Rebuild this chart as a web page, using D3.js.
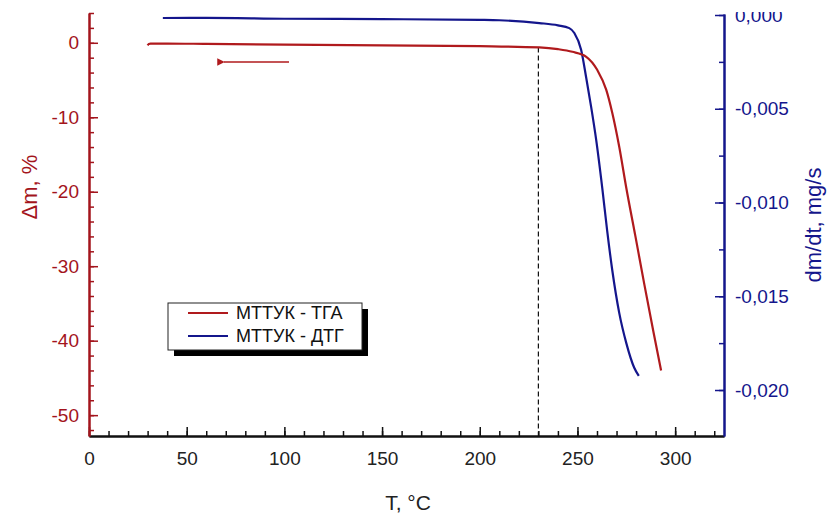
<!DOCTYPE html>
<html>
<head>
<meta charset="utf-8">
<script src="https://cdn.jsdelivr.net/npm/d3@7"></script>
<style>
  body { margin: 0; background: #fff; }
  svg { display: block; font-family: "Liberation Sans", Arial, sans-serif; }
</style>
</head>
<body>
<svg id="chart" width="829" height="514"></svg>
<script>
// ══════════════════════════════════════════════════
//  TGA / DTG curves — МТТУК
// ══════════════════════════════════════════════════

// ── Data ──
const tgaT    = [30, 30.6, 31.5, 40, 60, 100, 150, 200, 230.5, 240, 247.4, 254.5, 260.1, 264.7, 267.8, 271.4, 275.0, 279.6, 284.2, 288.8, 292.8];
const tgaMass = [-0.35, -0.15, -0.1, -0.1, -0.15, -0.25, -0.35, -0.45, -0.62, -0.85, -1.21, -1.88, -3.63, -6.3, -9.4, -14.0, -19.5, -25.9, -32.4, -38.7, -44.0];

const dtgT    = [37.8, 60, 100, 150, 200, 210, 230.5, 240, 245.8, 248.4, 251.9, 254.5, 257, 259.6, 262.7, 265.2, 267.8, 271.4, 275, 279, 281.4];
const dtgRate = [-0.00016, -0.00015, -0.0002, -0.00022, -0.00026, -0.00028, -0.00043, -0.00055, -0.0007, -0.00096, -0.00187, -0.00336, -0.0049, -0.00667, -0.00923, -0.0115, -0.0136, -0.0159, -0.0175, -0.0188, -0.01925];

const xTicks      = [0, 50, 100, 150, 200, 250, 300];
const massTicks   = [0, -10, -20, -30, -40, -50];
const rateTicks   = [0, -0.005, -0.010, -0.015, -0.020];
const onsetT      = 230;

const legendNames = ["МТТУК - ТГА", "МТТУК - ДТГ"];

// ── Colours ──
const red  = "#b01a1d";
const redAxis = "#a3141c";
const blue = "#14168c";

// ── Layout ──
const svg = d3.select("#chart");
const plotLeft = 89, plotRight = 724, plotTop = 13, plotBottom = 436;

const x = d3.scaleLinear().domain([0, 325]).range([plotLeft, plotRight]);
const yMass = d3.scaleLinear().domain([-52.8, 4]).range([plotBottom, plotTop]);
const yRate = d3.scaleLinear().domain([-0.022453, 0.0000533]).range([plotBottom, 14]);

// comma decimals, hyphen minus
const ru = d3.formatLocale({ decimal: ",", thousands: " ", grouping: [3], currency: ["", ""], minus: "-" });
const fmtRate = ru.format(".3f");
const fmtInt = ru.format("d");

function range(a, b, step) {
  const out = [];
  for (let v = a; v <= b + 1e-9; v += step) out.push(+v.toFixed(6));
  return out;
}

// ── Axes ──
function styleAxis(sel, color, textColor, size) {
  sel.selectAll(".domain").attr("stroke", color).attr("stroke-width", 2);
  sel.selectAll(".tick line").attr("stroke", color).attr("stroke-width", 1.5);
  sel.selectAll(".tick text").attr("fill", textColor).attr("font-size", size);
}

// bottom
svg.append("g")
  .attr("transform", `translate(0,${plotBottom})`)
  .call(d3.axisBottom(x).tickValues(range(0, 320, 10)).tickSize(-5).tickSizeOuter(0).tickFormat(""))
  .call(g => styleAxis(g, "#111", "#222", 18));
svg.append("g")
  .attr("transform", `translate(0,${plotBottom})`)
  .call(d3.axisBottom(x).tickValues(xTicks).tickSize(-9).tickSizeOuter(0).tickPadding(16).tickFormat(fmtInt))
  .call(g => styleAxis(g, "#111", "#222", 19));

// left
svg.append("g")
  .attr("transform", `translate(${plotLeft},0)`)
  .call(d3.axisLeft(yMass).tickValues(range(-52, 4, 2)).tickSize(-5).tickSizeOuter(0).tickFormat(""))
  .call(g => styleAxis(g, redAxis, redAxis, 18));
svg.append("g")
  .attr("transform", `translate(${plotLeft},0)`)
  .call(d3.axisLeft(yMass).tickValues(massTicks).tickSize(-9).tickSizeOuter(0).tickPadding(10).tickFormat(fmtInt))
  .call(g => styleAxis(g, redAxis, redAxis, 19));

// right
svg.append("g")
  .attr("transform", `translate(${plotRight},0)`)
  .call(d3.axisRight(yRate).tickValues(range(-0.02, 0, 0.0025)).tickSize(-5).tickSizeOuter(0).tickFormat(""))
  .call(g => styleAxis(g, blue, blue, 18));
svg.append("g")
  .attr("transform", `translate(${plotRight},0)`)
  .call(d3.axisRight(yRate).tickValues(rateTicks).tickSize(-9).tickSizeOuter(0).tickPadding(11).tickFormat(fmtRate))
  .call(g => styleAxis(g, blue, blue, 19));

// top of the "0,000" label is clipped in the original
svg.append("rect").attr("x", 729).attr("y", 0).attr("width", 80).attr("height", 12).attr("fill", "#fff");

// ── Axis titles ──
svg.append("text")
  .attr("x", 408).attr("y", 510)
  .attr("text-anchor", "middle")
  .attr("font-size", 21).attr("fill", "#222")
  .text("T, °C");

svg.append("text")
  .attr("transform", "translate(37,187) rotate(-90)")
  .attr("text-anchor", "middle")
  .attr("font-size", 22).attr("fill", redAxis)
  .text("Δm, %");

svg.append("text")
  .attr("transform", "translate(821,225) rotate(-90)")
  .attr("text-anchor", "middle")
  .attr("font-size", 22).attr("fill", blue)
  .text("dm/dt, mg/s");

// ── Onset marker ──
const tgaAt = d3.scaleLinear().domain(tgaT).range(tgaMass);
svg.append("line")
  .attr("x1", x(onsetT)).attr("x2", x(onsetT))
  .attr("y1", yMass(tgaAt(onsetT))).attr("y2", plotBottom)
  .attr("stroke", "#111").attr("stroke-width", 1.2)
  .attr("stroke-dasharray", "5,3");

// ── Curves ──
const tgaLine = d3.line()
  .x(i => x(tgaT[i])).y(i => yMass(tgaMass[i]))
  .curve(d3.curveMonotoneX);
const dtgLine = d3.line()
  .x(i => x(dtgT[i])).y(i => yRate(dtgRate[i]))
  .curve(d3.curveMonotoneX);

svg.append("path")
  .attr("d", dtgLine(d3.range(dtgT.length)))
  .attr("fill", "none").attr("stroke", blue).attr("stroke-width", 2.2);

svg.append("path")
  .attr("d", tgaLine(d3.range(tgaT.length)))
  .attr("fill", "none").attr("stroke", red).attr("stroke-width", 2.2);

// ── Arrow pointing to the mass axis ──
svg.append("defs").append("marker")
  .attr("id", "arrowhead")
  .attr("viewBox", "0 0 10 10")
  .attr("refX", 1).attr("refY", 5)
  .attr("markerWidth", 6).attr("markerHeight", 5)
  .attr("orient", "auto")
  .append("path").attr("d", "M10,0 L0,5 L10,10 z").attr("fill", red);

svg.append("line")
  .attr("x1", 289).attr("x2", 224)
  .attr("y1", 62).attr("y2", 62)
  .attr("stroke", red).attr("stroke-width", 1.5)
  .attr("marker-end", "url(#arrowhead)");

// ── Legend ──
const legend = svg.append("g").attr("transform", "translate(168,303)");
legend.append("rect")
  .attr("x", 6).attr("y", 6).attr("width", 194).attr("height", 47)
  .attr("fill", "#000");
legend.append("rect")
  .attr("width", 194).attr("height", 47)
  .attr("fill", "#fff").attr("stroke", "#222").attr("stroke-width", 1);

[red, blue].forEach((c, i) => {
  const yy = 10 + i * 23;
  legend.append("line")
    .attr("x1", 20).attr("x2", 60).attr("y1", yy).attr("y2", yy)
    .attr("stroke", c).attr("stroke-width", 2.2);
  legend.append("text")
    .attr("x", 68).attr("y", yy + 6)
    .attr("font-size", 18).attr("fill", "#111")
    .text(legendNames[i]);
});
</script>
</body>
</html>
